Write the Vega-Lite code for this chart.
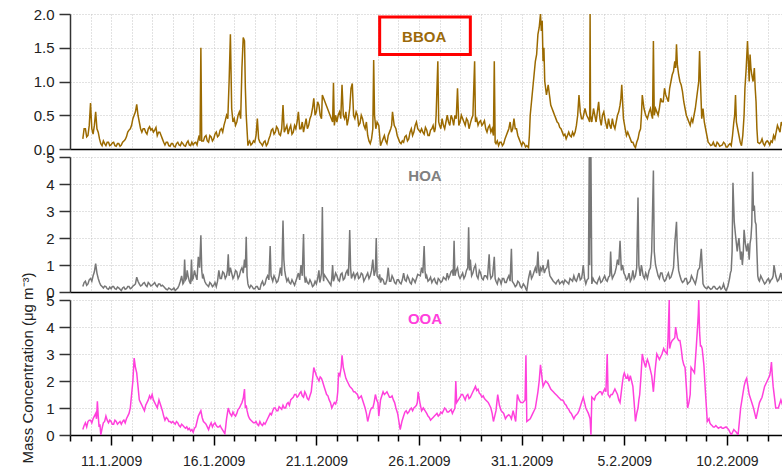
{
"$schema": "https://vega.github.io/schema/vega-lite/v6.json",
"autosize": {"type": "pad"},
"padding": {"left": 19, "top": 7, "right": 0, "bottom": 0},
"background": "white",
"spacing": 8,
"bounds": "flush",
"config": {
  "view": {"stroke": null},
  "font": "Liberation Sans",
  "axis": {"gridColor": "#c4c4c4", "gridDash": [1, 2], "gridWidth": 1, "labelFont": "Liberation Sans", "titleFont": "Liberation Sans", "labelColor": "#222", "titleColor": "#222", "labelOverlap": false}
},
"datasets": {
"bboa": [
{"t":"2009-01-09T15:00","v":0.15},{"t":"2009-01-09T18:00","v":0.3},{"t":"2009-01-09T21:00","v":0.2},
{"t":"2009-01-10T00:00","v":0.68},{"t":"2009-01-10T03:00","v":0.22},{"t":"2009-01-10T06:00","v":0.55},{"t":"2009-01-10T09:00","v":0.25},{"t":"2009-01-10T12:00","v":0.08},{"t":"2009-01-10T15:00","v":0.12},{"t":"2009-01-10T18:00","v":0.05},{"t":"2009-01-10T21:00","v":0.1},
{"t":"2009-01-11T00:00","v":0.06},{"t":"2009-01-11T03:00","v":0.1},{"t":"2009-01-11T06:00","v":0.04},{"t":"2009-01-11T09:00","v":0.08},{"t":"2009-01-11T12:00","v":0.06},{"t":"2009-01-11T15:00","v":0.12},{"t":"2009-01-11T18:00","v":0.18},{"t":"2009-01-11T21:00","v":0.28},
{"t":"2009-01-12T00:00","v":0.35},{"t":"2009-01-12T03:00","v":0.5},{"t":"2009-01-12T06:00","v":0.66},{"t":"2009-01-12T09:00","v":0.4},{"t":"2009-01-12T12:00","v":0.25},{"t":"2009-01-12T15:00","v":0.3},{"t":"2009-01-12T18:00","v":0.22},{"t":"2009-01-12T21:00","v":0.33},
{"t":"2009-01-13T00:00","v":0.3},{"t":"2009-01-13T03:00","v":0.28},{"t":"2009-01-13T06:00","v":0.2},{"t":"2009-01-13T09:00","v":0.25},{"t":"2009-01-13T12:00","v":0.15},{"t":"2009-01-13T15:00","v":0.06},{"t":"2009-01-13T18:00","v":0.1},{"t":"2009-01-13T21:00","v":0.04},
{"t":"2009-01-14T00:00","v":0.08},{"t":"2009-01-14T03:00","v":0.03},{"t":"2009-01-14T06:00","v":0.1},{"t":"2009-01-14T09:00","v":0.05},{"t":"2009-01-14T12:00","v":0.08},{"t":"2009-01-14T15:00","v":0.04},{"t":"2009-01-14T18:00","v":0.12},{"t":"2009-01-14T21:00","v":0.05},
{"t":"2009-01-15T00:00","v":0.06},{"t":"2009-01-15T03:00","v":0.1},{"t":"2009-01-15T06:00","v":0.15},{"t":"2009-01-15T08:00","v":0.12},{"t":"2009-01-15T09:00","v":1.5},{"t":"2009-01-15T10:00","v":0.12},{"t":"2009-01-15T12:00","v":0.12},{"t":"2009-01-15T15:00","v":0.2},{"t":"2009-01-15T18:00","v":0.1},{"t":"2009-01-15T21:00","v":0.18},
{"t":"2009-01-16T00:00","v":0.15},{"t":"2009-01-16T03:00","v":0.25},{"t":"2009-01-16T06:00","v":0.2},{"t":"2009-01-16T09:00","v":0.3},{"t":"2009-01-16T12:00","v":0.35},{"t":"2009-01-16T15:00","v":0.5},{"t":"2009-01-16T18:00","v":1.0},{"t":"2009-01-16T19:30","v":1.7},{"t":"2009-01-16T21:00","v":0.6},
{"t":"2009-01-17T00:00","v":0.45},{"t":"2009-01-17T03:00","v":0.4},{"t":"2009-01-17T06:00","v":0.55},{"t":"2009-01-17T09:00","v":1.2},{"t":"2009-01-17T10:30","v":1.65},{"t":"2009-01-17T12:00","v":1.6},{"t":"2009-01-17T14:00","v":0.5},{"t":"2009-01-17T16:00","v":0.05},{"t":"2009-01-17T18:00","v":0.12},{"t":"2009-01-17T21:00","v":0.08},
{"t":"2009-01-18T00:00","v":0.1},{"t":"2009-01-18T03:00","v":0.45},{"t":"2009-01-18T06:00","v":0.1},{"t":"2009-01-18T09:00","v":0.05},{"t":"2009-01-18T12:00","v":0.12},{"t":"2009-01-18T15:00","v":0.08},{"t":"2009-01-18T18:00","v":0.2},{"t":"2009-01-18T21:00","v":0.3},
{"t":"2009-01-19T00:00","v":0.25},{"t":"2009-01-19T03:00","v":0.3},{"t":"2009-01-19T06:00","v":0.2},{"t":"2009-01-19T09:00","v":0.65},{"t":"2009-01-19T12:00","v":0.3},{"t":"2009-01-19T15:00","v":0.22},{"t":"2009-01-19T18:00","v":0.35},{"t":"2009-01-19T21:00","v":0.25},
{"t":"2009-01-20T00:00","v":0.3},{"t":"2009-01-20T03:00","v":0.55},{"t":"2009-01-20T06:00","v":0.3},{"t":"2009-01-20T09:00","v":0.25},{"t":"2009-01-20T12:00","v":0.45},{"t":"2009-01-20T15:00","v":0.35},{"t":"2009-01-20T18:00","v":0.5},{"t":"2009-01-20T21:00","v":0.75},
{"t":"2009-01-21T00:00","v":0.55},{"t":"2009-01-21T03:00","v":0.65},{"t":"2009-01-21T06:00","v":0.45},{"t":"2009-01-21T07:00","v":0.8},{"t":"2009-01-21T19:00","v":0.4},{"t":"2009-01-21T20:00","v":0.98},{"t":"2009-01-21T21:00","v":0.35},
{"t":"2009-01-22T00:00","v":0.4},{"t":"2009-01-22T03:00","v":0.55},{"t":"2009-01-22T06:00","v":0.95},{"t":"2009-01-22T09:00","v":0.45},{"t":"2009-01-22T12:00","v":0.35},{"t":"2009-01-22T15:00","v":0.6},{"t":"2009-01-22T16:30","v":0.9},{"t":"2009-01-22T18:00","v":0.97},{"t":"2009-01-22T21:00","v":0.45},
{"t":"2009-01-23T00:00","v":0.5},{"t":"2009-01-23T03:00","v":0.38},{"t":"2009-01-23T06:00","v":0.45},{"t":"2009-01-23T09:00","v":0.3},{"t":"2009-01-23T12:00","v":0.2},{"t":"2009-01-23T15:00","v":0.08},{"t":"2009-01-23T18:00","v":0.3},{"t":"2009-01-23T19:00","v":1.32},{"t":"2009-01-23T20:00","v":0.5},{"t":"2009-01-23T23:00","v":0.4},
{"t":"2009-01-24T01:00","v":0.35},{"t":"2009-01-24T03:00","v":0.05},{"t":"2009-01-24T06:00","v":0.15},{"t":"2009-01-24T09:00","v":0.12},{"t":"2009-01-24T12:00","v":0.2},{"t":"2009-01-24T15:00","v":0.3},{"t":"2009-01-24T17:00","v":0.55},{"t":"2009-01-24T21:00","v":0.3},
{"t":"2009-01-25T00:00","v":0.15},{"t":"2009-01-25T03:00","v":0.08},{"t":"2009-01-25T06:00","v":0.1},{"t":"2009-01-25T09:00","v":0.2},{"t":"2009-01-25T12:00","v":0.15},{"t":"2009-01-25T15:00","v":0.3},{"t":"2009-01-25T18:00","v":0.25},{"t":"2009-01-25T21:00","v":0.4},
{"t":"2009-01-26T03:00","v":0.3},{"t":"2009-01-26T06:00","v":0.22},{"t":"2009-01-26T09:00","v":0.28},{"t":"2009-01-26T12:00","v":0.2},{"t":"2009-01-26T15:00","v":0.3},{"t":"2009-01-26T18:00","v":0.25},{"t":"2009-01-26T20:00","v":0.5},{"t":"2009-01-26T22:00","v":1.3},
{"t":"2009-01-27T00:00","v":0.35},{"t":"2009-01-27T03:00","v":0.45},{"t":"2009-01-27T06:00","v":0.3},{"t":"2009-01-27T09:00","v":0.5},{"t":"2009-01-27T12:00","v":0.35},{"t":"2009-01-27T15:00","v":0.45},{"t":"2009-01-27T18:00","v":0.5},{"t":"2009-01-27T21:00","v":0.9},
{"t":"2009-01-28T00:00","v":0.4},{"t":"2009-01-28T03:00","v":0.45},{"t":"2009-01-28T06:00","v":0.35},{"t":"2009-01-28T09:00","v":0.42},{"t":"2009-01-28T12:00","v":0.38},{"t":"2009-01-28T15:00","v":0.5},{"t":"2009-01-28T17:00","v":1.3},{"t":"2009-01-28T18:00","v":0.4},{"t":"2009-01-28T21:00","v":0.35},
{"t":"2009-01-29T00:00","v":0.42},{"t":"2009-01-29T03:00","v":0.38},{"t":"2009-01-29T06:00","v":0.3},{"t":"2009-01-29T09:00","v":0.32},{"t":"2009-01-29T12:00","v":0.25},{"t":"2009-01-29T15:00","v":0.2},{"t":"2009-01-29T16:00","v":1.3},{"t":"2009-01-29T17:00","v":0.1},{"t":"2009-01-29T18:00","v":0.08},{"t":"2009-01-29T21:00","v":0.05},
{"t":"2009-01-30T00:00","v":0.1},{"t":"2009-01-30T03:00","v":0.08},{"t":"2009-01-30T06:00","v":0.2},{"t":"2009-01-30T09:00","v":0.3},{"t":"2009-01-30T12:00","v":0.25},{"t":"2009-01-30T15:00","v":0.45},{"t":"2009-01-30T18:00","v":0.3},{"t":"2009-01-30T21:00","v":0.15},
{"t":"2009-01-31T00:00","v":0.05},{"t":"2009-01-31T03:00","v":0.08},{"t":"2009-01-31T06:00","v":0.05},{"t":"2009-01-31T08:00","v":0.02},{"t":"2009-01-31T10:00","v":0.5},{"t":"2009-01-31T13:00","v":0.9},{"t":"2009-01-31T16:00","v":1.3},{"t":"2009-01-31T19:00","v":1.7},{"t":"2009-01-31T22:00","v":2.0},
{"t":"2009-02-01T00:00","v":1.9},{"t":"2009-02-01T01:00","v":1.3},{"t":"2009-02-01T03:00","v":1.0},{"t":"2009-02-01T07:00","v":0.95},{"t":"2009-02-01T10:00","v":0.65},{"t":"2009-02-01T13:00","v":0.55},{"t":"2009-02-01T16:00","v":0.45},{"t":"2009-02-01T19:00","v":0.38},{"t":"2009-02-01T22:00","v":0.3},
{"t":"2009-02-02T01:00","v":0.2},{"t":"2009-02-02T04:00","v":0.15},{"t":"2009-02-02T07:00","v":0.25},{"t":"2009-02-02T10:00","v":0.18},{"t":"2009-02-02T13:00","v":0.2},{"t":"2009-02-02T16:00","v":0.35},{"t":"2009-02-02T19:00","v":0.8},{"t":"2009-02-02T22:00","v":0.45},
{"t":"2009-02-03T04:00","v":0.5},{"t":"2009-02-03T07:30","v":0.4},{"t":"2009-02-03T08:00","v":2.0},{"t":"2009-02-03T08:30","v":0.5},{"t":"2009-02-03T12:00","v":0.6},{"t":"2009-02-03T15:00","v":0.4},{"t":"2009-02-03T18:00","v":0.7},{"t":"2009-02-03T21:00","v":0.35},
{"t":"2009-02-04T00:00","v":0.55},{"t":"2009-02-04T04:00","v":0.3},{"t":"2009-02-04T07:00","v":0.35},{"t":"2009-02-04T10:00","v":0.45},{"t":"2009-02-04T13:00","v":0.3},{"t":"2009-02-04T16:00","v":0.5},{"t":"2009-02-04T19:00","v":0.65},{"t":"2009-02-04T21:00","v":0.95},
{"t":"2009-02-05T01:00","v":0.3},{"t":"2009-02-05T04:00","v":0.25},{"t":"2009-02-05T07:00","v":0.15},{"t":"2009-02-05T10:00","v":0.1},{"t":"2009-02-05T13:00","v":0.02},{"t":"2009-02-05T16:00","v":0.15},{"t":"2009-02-05T19:00","v":0.3},{"t":"2009-02-05T21:00","v":0.8},
{"t":"2009-02-06T01:00","v":0.5},{"t":"2009-02-06T05:00","v":0.55},{"t":"2009-02-06T08:00","v":0.5},{"t":"2009-02-06T10:00","v":1.6},{"t":"2009-02-06T11:00","v":0.5},{"t":"2009-02-06T14:00","v":0.55},{"t":"2009-02-06T17:00","v":0.6},{"t":"2009-02-06T20:00","v":0.7},{"t":"2009-02-06T23:00","v":0.9},
{"t":"2009-02-07T02:00","v":0.75},{"t":"2009-02-07T05:00","v":0.9},{"t":"2009-02-07T08:00","v":1.1},{"t":"2009-02-07T11:00","v":1.3},{"t":"2009-02-07T13:00","v":1.55},{"t":"2009-02-07T14:00","v":1.25},{"t":"2009-02-07T17:00","v":1.0},{"t":"2009-02-07T20:00","v":0.85},{"t":"2009-02-07T23:00","v":0.6},
{"t":"2009-02-08T02:00","v":0.45},{"t":"2009-02-08T05:00","v":0.35},{"t":"2009-02-08T08:00","v":0.4},{"t":"2009-02-08T11:00","v":0.6},{"t":"2009-02-08T14:00","v":0.9},{"t":"2009-02-08T16:00","v":1.45},{"t":"2009-02-08T17:00","v":1.0},{"t":"2009-02-08T20:00","v":0.6},{"t":"2009-02-08T23:00","v":0.3},
{"t":"2009-02-09T02:00","v":0.1},{"t":"2009-02-09T05:00","v":0.05},{"t":"2009-02-09T08:00","v":0.1},{"t":"2009-02-09T11:00","v":0.04},{"t":"2009-02-09T14:00","v":0.08},{"t":"2009-02-09T17:00","v":0.05},{"t":"2009-02-09T20:00","v":0.1},{"t":"2009-02-09T23:00","v":0.03},
{"t":"2009-02-10T02:00","v":0.06},{"t":"2009-02-10T05:00","v":0.05},{"t":"2009-02-10T08:00","v":0.4},{"t":"2009-02-10T10:00","v":0.8},{"t":"2009-02-10T11:00","v":0.4},{"t":"2009-02-10T14:00","v":0.2},{"t":"2009-02-10T17:00","v":0.05},{"t":"2009-02-10T20:00","v":0.5},{"t":"2009-02-10T21:00","v":0.9},
{"t":"2009-02-11T00:00","v":1.6},{"t":"2009-02-11T02:00","v":1.0},{"t":"2009-02-11T04:00","v":1.2},{"t":"2009-02-11T05:00","v":1.1},{"t":"2009-02-11T08:00","v":1.2},{"t":"2009-02-11T10:00","v":0.7},{"t":"2009-02-11T12:00","v":0.1},{"t":"2009-02-11T14:00","v":0.08},{"t":"2009-02-11T17:00","v":0.15},{"t":"2009-02-11T20:00","v":0.05},{"t":"2009-02-11T23:00","v":0.12},
{"t":"2009-02-12T02:00","v":0.06},{"t":"2009-02-12T05:00","v":0.1},{"t":"2009-02-12T08:00","v":0.15},{"t":"2009-02-12T11:00","v":0.35},{"t":"2009-02-12T14:00","v":0.25},{"t":"2009-02-12T17:00","v":0.35},{"t":"2009-02-12T20:00","v":0.3},
{"t":"2009-01-09T16:30","v":0.3},{"t":"2009-01-09T19:30","v":0.18},{"t":"2009-01-09T22:30","v":0.35},
{"t":"2009-01-10T01:30","v":0.3},{"t":"2009-01-10T04:30","v":0.35},{"t":"2009-01-10T07:30","v":0.3},{"t":"2009-01-10T10:30","v":0.15},{"t":"2009-01-10T13:30","v":0.05},{"t":"2009-01-10T16:30","v":0.08},{"t":"2009-01-10T19:30","v":0.1},{"t":"2009-01-10T22:30","v":0.05},
{"t":"2009-01-11T01:30","v":0.09},{"t":"2009-01-11T04:30","v":0.05},{"t":"2009-01-11T07:30","v":0.08},{"t":"2009-01-11T10:30","v":0.04},{"t":"2009-01-11T13:30","v":0.1},{"t":"2009-01-11T16:30","v":0.14},{"t":"2009-01-11T19:30","v":0.25},{"t":"2009-01-11T22:30","v":0.3},
{"t":"2009-01-12T01:30","v":0.45},{"t":"2009-01-12T04:30","v":0.55},{"t":"2009-01-12T07:30","v":0.5},{"t":"2009-01-12T10:30","v":0.3},{"t":"2009-01-12T13:30","v":0.3},{"t":"2009-01-12T16:30","v":0.25},{"t":"2009-01-12T19:30","v":0.3},{"t":"2009-01-12T22:30","v":0.28},
{"t":"2009-01-13T01:30","v":0.25},{"t":"2009-01-13T04:30","v":0.32},{"t":"2009-01-13T07:30","v":0.25},{"t":"2009-01-13T10:30","v":0.2},{"t":"2009-01-13T13:30","v":0.1},{"t":"2009-01-13T16:30","v":0.1},{"t":"2009-01-13T19:30","v":0.05},{"t":"2009-01-13T22:30","v":0.08},
{"t":"2009-01-14T01:30","v":0.04},{"t":"2009-01-14T04:30","v":0.08},{"t":"2009-01-14T07:30","v":0.06},{"t":"2009-01-14T10:30","v":0.1},{"t":"2009-01-14T13:30","v":0.05},{"t":"2009-01-14T16:30","v":0.09},{"t":"2009-01-14T19:30","v":0.06},{"t":"2009-01-14T22:30","v":0.1},
{"t":"2009-01-15T01:30","v":0.09},{"t":"2009-01-15T04:30","v":0.06},{"t":"2009-01-15T07:00","v":0.2},{"t":"2009-01-15T13:30","v":0.18},{"t":"2009-01-15T16:30","v":0.12},{"t":"2009-01-15T19:30","v":0.2},{"t":"2009-01-15T22:30","v":0.12},
{"t":"2009-01-16T01:30","v":0.22},{"t":"2009-01-16T04:30","v":0.18},{"t":"2009-01-16T07:30","v":0.28},{"t":"2009-01-16T10:30","v":0.25},{"t":"2009-01-16T13:30","v":0.42},{"t":"2009-01-16T16:30","v":0.45},{"t":"2009-01-16T22:30","v":0.4},
{"t":"2009-01-17T01:30","v":0.35},{"t":"2009-01-17T04:30","v":0.5},{"t":"2009-01-17T07:30","v":0.45},{"t":"2009-01-17T13:00","v":0.9},{"t":"2009-01-17T17:00","v":0.1},{"t":"2009-01-17T19:30","v":0.06},{"t":"2009-01-17T22:30","v":0.12},
{"t":"2009-01-18T01:30","v":0.2},{"t":"2009-01-18T04:30","v":0.15},{"t":"2009-01-18T07:30","v":0.08},{"t":"2009-01-18T10:30","v":0.1},{"t":"2009-01-18T13:30","v":0.05},{"t":"2009-01-18T16:30","v":0.15},{"t":"2009-01-18T19:30","v":0.28},{"t":"2009-01-18T22:30","v":0.22},
{"t":"2009-01-19T01:30","v":0.33},{"t":"2009-01-19T04:30","v":0.22},{"t":"2009-01-19T07:30","v":0.3},{"t":"2009-01-19T10:30","v":0.25},{"t":"2009-01-19T13:30","v":0.35},{"t":"2009-01-19T16:30","v":0.3},{"t":"2009-01-19T19:30","v":0.22},{"t":"2009-01-19T22:30","v":0.35},
{"t":"2009-01-20T01:30","v":0.4},{"t":"2009-01-20T04:30","v":0.3},{"t":"2009-01-20T07:30","v":0.4},{"t":"2009-01-20T10:30","v":0.35},{"t":"2009-01-20T13:30","v":0.3},{"t":"2009-01-20T16:30","v":0.45},{"t":"2009-01-20T19:30","v":0.6},{"t":"2009-01-20T22:30","v":0.5},
{"t":"2009-01-21T01:30","v":0.7},{"t":"2009-01-21T04:30","v":0.5},{"t":"2009-01-21T22:30","v":0.5},
{"t":"2009-01-22T01:30","v":0.5},{"t":"2009-01-22T04:30","v":0.45},{"t":"2009-01-22T07:30","v":0.5},{"t":"2009-01-22T10:30","v":0.55},{"t":"2009-01-22T13:30","v":0.45},{"t":"2009-01-22T19:30","v":0.5},{"t":"2009-01-22T22:30","v":0.55},
{"t":"2009-01-23T01:30","v":0.35},{"t":"2009-01-23T04:30","v":0.5},{"t":"2009-01-23T07:30","v":0.35},{"t":"2009-01-23T10:30","v":0.4},{"t":"2009-01-23T13:30","v":0.12},{"t":"2009-01-23T16:30","v":0.15},{"t":"2009-01-23T21:30","v":0.3},
{"t":"2009-01-24T02:00","v":0.2},{"t":"2009-01-24T04:30","v":0.1},{"t":"2009-01-24T07:30","v":0.2},{"t":"2009-01-24T10:30","v":0.08},{"t":"2009-01-24T13:30","v":0.25},{"t":"2009-01-24T16:00","v":0.35},{"t":"2009-01-24T19:00","v":0.35},{"t":"2009-01-24T22:30","v":0.2},
{"t":"2009-01-25T01:30","v":0.1},{"t":"2009-01-25T04:30","v":0.12},{"t":"2009-01-25T07:30","v":0.18},{"t":"2009-01-25T10:30","v":0.12},{"t":"2009-01-25T13:30","v":0.25},{"t":"2009-01-25T16:30","v":0.2},{"t":"2009-01-25T19:30","v":0.35},{"t":"2009-01-25T22:30","v":0.3},
{"t":"2009-01-26T01:30","v":0.25},{"t":"2009-01-26T04:30","v":0.25},{"t":"2009-01-26T07:30","v":0.32},{"t":"2009-01-26T10:30","v":0.2},{"t":"2009-01-26T13:30","v":0.28},{"t":"2009-01-26T16:30","v":0.35},{"t":"2009-01-26T19:00","v":0.3},{"t":"2009-01-26T23:00","v":0.4},
{"t":"2009-01-27T01:30","v":0.3},{"t":"2009-01-27T04:30","v":0.35},{"t":"2009-01-27T07:30","v":0.4},{"t":"2009-01-27T10:30","v":0.4},{"t":"2009-01-27T13:30","v":0.5},{"t":"2009-01-27T16:30","v":0.35},{"t":"2009-01-27T19:30","v":0.45},{"t":"2009-01-27T22:30","v":0.35},
{"t":"2009-01-28T01:30","v":0.5},{"t":"2009-01-28T04:30","v":0.4},{"t":"2009-01-28T07:30","v":0.45},{"t":"2009-01-28T10:30","v":0.3},{"t":"2009-01-28T13:30","v":0.45},{"t":"2009-01-28T19:30","v":0.45},{"t":"2009-01-28T22:30","v":0.4},
{"t":"2009-01-29T01:30","v":0.35},{"t":"2009-01-29T04:30","v":0.42},{"t":"2009-01-29T07:30","v":0.25},{"t":"2009-01-29T10:30","v":0.35},{"t":"2009-01-29T13:30","v":0.3},{"t":"2009-01-29T19:30","v":0.12},{"t":"2009-01-29T22:30","v":0.1},
{"t":"2009-01-30T01:30","v":0.05},{"t":"2009-01-30T04:30","v":0.15},{"t":"2009-01-30T07:30","v":0.25},{"t":"2009-01-30T10:30","v":0.4},{"t":"2009-01-30T13:30","v":0.3},{"t":"2009-01-30T16:30","v":0.3},{"t":"2009-01-30T19:30","v":0.2},{"t":"2009-01-30T22:30","v":0.1},
{"t":"2009-01-31T01:30","v":0.1},{"t":"2009-01-31T04:30","v":0.03},{"t":"2009-01-31T09:00","v":0.2},{"t":"2009-01-31T11:30","v":0.7},{"t":"2009-01-31T14:30","v":1.1},{"t":"2009-01-31T17:30","v":1.4},{"t":"2009-01-31T20:30","v":1.8},{"t":"2009-01-31T23:00","v":1.75},
{"t":"2009-02-01T02:00","v":1.5},{"t":"2009-02-01T05:00","v":0.8},{"t":"2009-02-01T08:30","v":0.8},{"t":"2009-02-01T11:30","v":0.6},{"t":"2009-02-01T14:30","v":0.5},{"t":"2009-02-01T17:30","v":0.4},{"t":"2009-02-01T20:30","v":0.32},{"t":"2009-02-01T23:30","v":0.25},
{"t":"2009-02-02T02:30","v":0.22},{"t":"2009-02-02T05:30","v":0.2},{"t":"2009-02-02T08:30","v":0.2},{"t":"2009-02-02T11:30","v":0.25},{"t":"2009-02-02T14:30","v":0.25},{"t":"2009-02-02T17:30","v":0.5},{"t":"2009-02-02T20:30","v":0.55},{"t":"2009-02-02T23:30","v":0.45},
{"t":"2009-02-03T02:00","v":0.6},{"t":"2009-02-03T06:00","v":0.45},{"t":"2009-02-03T10:00","v":0.4},{"t":"2009-02-03T13:30","v":0.5},{"t":"2009-02-03T16:30","v":0.55},{"t":"2009-02-03T19:30","v":0.45},{"t":"2009-02-03T22:30","v":0.5},
{"t":"2009-02-04T02:00","v":0.4},{"t":"2009-02-04T05:30","v":0.45},{"t":"2009-02-04T08:30","v":0.3},{"t":"2009-02-04T11:30","v":0.35},{"t":"2009-02-04T14:30","v":0.4},{"t":"2009-02-04T17:30","v":0.55},{"t":"2009-02-04T20:00","v":0.75},{"t":"2009-02-04T23:00","v":0.45},
{"t":"2009-02-05T02:30","v":0.2},{"t":"2009-02-05T05:30","v":0.2},{"t":"2009-02-05T08:30","v":0.1},{"t":"2009-02-05T11:30","v":0.05},{"t":"2009-02-05T14:30","v":0.1},{"t":"2009-02-05T17:30","v":0.25},{"t":"2009-02-05T20:00","v":0.5},{"t":"2009-02-05T23:00","v":0.6},
{"t":"2009-02-06T03:00","v":0.45},{"t":"2009-02-06T06:30","v":0.6},{"t":"2009-02-06T09:00","v":0.45},{"t":"2009-02-06T12:30","v":0.6},{"t":"2009-02-06T15:30","v":0.5},{"t":"2009-02-06T18:30","v":0.75},{"t":"2009-02-06T21:30","v":0.7},
{"t":"2009-02-07T00:30","v":0.8},{"t":"2009-02-07T03:30","v":0.7},{"t":"2009-02-07T06:30","v":1.0},{"t":"2009-02-07T09:30","v":1.15},{"t":"2009-02-07T12:00","v":1.2},{"t":"2009-02-07T15:30","v":1.1},{"t":"2009-02-07T18:30","v":0.95},{"t":"2009-02-07T21:30","v":0.7},
{"t":"2009-02-08T00:30","v":0.5},{"t":"2009-02-08T03:30","v":0.4},{"t":"2009-02-08T06:30","v":0.45},{"t":"2009-02-08T09:30","v":0.5},{"t":"2009-02-08T12:30","v":0.75},{"t":"2009-02-08T15:00","v":1.0},{"t":"2009-02-08T18:30","v":0.45},{"t":"2009-02-08T21:30","v":0.4},
{"t":"2009-02-09T00:30","v":0.2},{"t":"2009-02-09T03:30","v":0.08},{"t":"2009-02-09T06:30","v":0.06},{"t":"2009-02-09T09:30","v":0.05},{"t":"2009-02-09T12:30","v":0.1},{"t":"2009-02-09T15:30","v":0.04},{"t":"2009-02-09T18:30","v":0.06},{"t":"2009-02-09T21:30","v":0.08},
{"t":"2009-02-10T00:30","v":0.03},{"t":"2009-02-10T03:30","v":0.08},{"t":"2009-02-10T06:30","v":0.2},{"t":"2009-02-10T09:00","v":0.5},{"t":"2009-02-10T12:30","v":0.3},{"t":"2009-02-10T15:30","v":0.1},{"t":"2009-02-10T18:30","v":0.2},{"t":"2009-02-10T22:30","v":1.2},
{"t":"2009-02-11T01:00","v":1.3},{"t":"2009-02-11T03:00","v":1.4},{"t":"2009-02-11T06:30","v":1.0},{"t":"2009-02-11T09:00","v":0.9},{"t":"2009-02-11T11:00","v":0.3},{"t":"2009-02-11T15:30","v":0.1},{"t":"2009-02-11T18:30","v":0.08},{"t":"2009-02-11T21:30","v":0.1},
{"t":"2009-02-12T00:30","v":0.1},{"t":"2009-02-12T03:30","v":0.12},{"t":"2009-02-12T06:30","v":0.2},{"t":"2009-02-12T09:30","v":0.25},{"t":"2009-02-12T12:30","v":0.3},{"t":"2009-02-12T15:30","v":0.4},{"t":"2009-02-12T18:30","v":0.3}
],
"hoa": [
{"t":"2009-01-09T15:00","v":0.2},{"t":"2009-01-09T18:00","v":0.4},{"t":"2009-01-09T21:00","v":0.3},
{"t":"2009-01-10T00:00","v":0.5},{"t":"2009-01-10T03:00","v":0.6},{"t":"2009-01-10T06:00","v":1.05},{"t":"2009-01-10T09:00","v":0.5},{"t":"2009-01-10T12:00","v":0.25},{"t":"2009-01-10T15:00","v":0.15},{"t":"2009-01-10T18:00","v":0.2},{"t":"2009-01-10T21:00","v":0.1},
{"t":"2009-01-11T00:00","v":0.12},{"t":"2009-01-11T03:00","v":0.2},{"t":"2009-01-11T06:00","v":0.1},{"t":"2009-01-11T09:00","v":0.15},{"t":"2009-01-11T12:00","v":0.05},{"t":"2009-01-11T15:00","v":0.18},{"t":"2009-01-11T18:00","v":0.12},{"t":"2009-01-11T21:00","v":0.2},
{"t":"2009-01-12T00:00","v":0.15},{"t":"2009-01-12T03:00","v":0.25},{"t":"2009-01-12T06:00","v":0.55},{"t":"2009-01-12T09:00","v":0.3},{"t":"2009-01-12T12:00","v":0.25},{"t":"2009-01-12T15:00","v":0.35},{"t":"2009-01-12T18:00","v":0.2},{"t":"2009-01-12T21:00","v":0.3},
{"t":"2009-01-13T00:00","v":0.25},{"t":"2009-01-13T03:00","v":0.35},{"t":"2009-01-13T06:00","v":0.2},{"t":"2009-01-13T09:00","v":0.3},{"t":"2009-01-13T12:00","v":0.25},{"t":"2009-01-13T15:00","v":0.15},{"t":"2009-01-13T18:00","v":0.08},{"t":"2009-01-13T21:00","v":0.12},
{"t":"2009-01-14T00:00","v":0.1},{"t":"2009-01-14T03:00","v":0.05},{"t":"2009-01-14T06:00","v":0.15},{"t":"2009-01-14T09:00","v":0.4},{"t":"2009-01-14T12:00","v":0.3},{"t":"2009-01-14T14:00","v":1.2},{"t":"2009-01-14T16:00","v":0.5},{"t":"2009-01-14T18:00","v":0.6},{"t":"2009-01-14T21:00","v":0.3},{"t":"2009-01-14T22:00","v":1.2},
{"t":"2009-01-15T00:00","v":0.5},{"t":"2009-01-15T03:00","v":0.6},{"t":"2009-01-15T06:00","v":1.3},{"t":"2009-01-15T09:00","v":2.1},{"t":"2009-01-15T10:00","v":0.8},{"t":"2009-01-15T12:00","v":0.6},{"t":"2009-01-15T15:00","v":0.3},{"t":"2009-01-15T18:00","v":0.2},{"t":"2009-01-15T21:00","v":0.3},
{"t":"2009-01-16T00:00","v":0.25},{"t":"2009-01-16T03:00","v":0.2},{"t":"2009-01-16T06:00","v":0.8},{"t":"2009-01-16T09:00","v":0.5},{"t":"2009-01-16T12:00","v":0.7},{"t":"2009-01-16T15:00","v":0.6},{"t":"2009-01-16T17:00","v":1.4},{"t":"2009-01-16T18:00","v":0.6},{"t":"2009-01-16T21:00","v":0.7},
{"t":"2009-01-17T00:00","v":0.6},{"t":"2009-01-17T03:00","v":0.75},{"t":"2009-01-17T06:00","v":0.6},{"t":"2009-01-17T09:00","v":0.9},{"t":"2009-01-17T12:00","v":1.2},{"t":"2009-01-17T14:00","v":2.05},{"t":"2009-01-17T15:00","v":0.6},{"t":"2009-01-17T16:00","v":0.3},{"t":"2009-01-17T18:00","v":0.15},{"t":"2009-01-17T21:00","v":0.2},
{"t":"2009-01-18T00:00","v":0.12},{"t":"2009-01-18T03:00","v":0.2},{"t":"2009-01-18T06:00","v":0.1},{"t":"2009-01-18T09:00","v":0.4},{"t":"2009-01-18T12:00","v":0.3},{"t":"2009-01-18T15:00","v":0.6},{"t":"2009-01-18T18:00","v":1.7},{"t":"2009-01-18T20:00","v":0.5},{"t":"2009-01-18T21:00","v":0.4},
{"t":"2009-01-19T00:00","v":0.5},{"t":"2009-01-19T03:00","v":0.4},{"t":"2009-01-19T06:00","v":0.9},{"t":"2009-01-19T09:00","v":2.65},{"t":"2009-01-19T10:00","v":1.2},{"t":"2009-01-19T12:00","v":0.6},{"t":"2009-01-19T15:00","v":0.5},{"t":"2009-01-19T18:00","v":0.3},{"t":"2009-01-19T21:00","v":0.35},
{"t":"2009-01-20T00:00","v":0.4},{"t":"2009-01-20T03:00","v":0.7},{"t":"2009-01-20T06:00","v":1.0},{"t":"2009-01-20T09:00","v":2.15},{"t":"2009-01-20T10:00","v":0.6},{"t":"2009-01-20T12:00","v":0.5},{"t":"2009-01-20T15:00","v":0.3},{"t":"2009-01-20T18:00","v":0.35},{"t":"2009-01-20T21:00","v":0.25},
{"t":"2009-01-21T00:00","v":0.3},{"t":"2009-01-21T03:00","v":0.8},{"t":"2009-01-21T05:00","v":0.5},{"t":"2009-01-21T07:00","v":3.15},{"t":"2009-01-21T08:00","v":0.6},{"t":"2009-01-21T09:00","v":0.65},{"t":"2009-01-21T17:00","v":0.25},{"t":"2009-01-21T19:00","v":1.0},{"t":"2009-01-21T21:00","v":0.5},
{"t":"2009-01-22T00:00","v":0.6},{"t":"2009-01-22T03:00","v":0.4},{"t":"2009-01-22T06:00","v":0.7},{"t":"2009-01-22T09:00","v":0.5},{"t":"2009-01-22T12:00","v":0.8},{"t":"2009-01-22T15:00","v":2.3},{"t":"2009-01-22T16:00","v":0.9},{"t":"2009-01-22T18:00","v":0.6},{"t":"2009-01-22T21:00","v":0.5},
{"t":"2009-01-23T00:00","v":0.7},{"t":"2009-01-23T03:00","v":0.55},{"t":"2009-01-23T06:00","v":0.65},{"t":"2009-01-23T09:00","v":0.5},{"t":"2009-01-23T12:00","v":0.7},{"t":"2009-01-23T15:00","v":0.6},{"t":"2009-01-23T18:00","v":1.2},{"t":"2009-01-23T21:00","v":0.8},{"t":"2009-01-23T22:00","v":2.0},{"t":"2009-01-23T23:00","v":0.6},
{"t":"2009-01-24T01:00","v":0.5},{"t":"2009-01-24T03:00","v":0.35},{"t":"2009-01-24T06:00","v":0.45},{"t":"2009-01-24T09:00","v":0.3},{"t":"2009-01-24T12:00","v":0.9},{"t":"2009-01-24T15:00","v":0.4},{"t":"2009-01-24T18:00","v":0.5},{"t":"2009-01-24T21:00","v":0.3},
{"t":"2009-01-25T00:00","v":0.45},{"t":"2009-01-25T03:00","v":0.3},{"t":"2009-01-25T06:00","v":0.7},{"t":"2009-01-25T09:00","v":0.4},{"t":"2009-01-25T12:00","v":0.5},{"t":"2009-01-25T15:00","v":0.3},{"t":"2009-01-25T18:00","v":0.45},{"t":"2009-01-25T21:00","v":0.5},
{"t":"2009-01-26T03:00","v":0.9},{"t":"2009-01-26T06:00","v":1.7},{"t":"2009-01-26T07:00","v":0.8},{"t":"2009-01-26T09:00","v":0.6},{"t":"2009-01-26T12:00","v":0.45},{"t":"2009-01-26T15:00","v":0.35},{"t":"2009-01-26T18:00","v":0.5},{"t":"2009-01-26T21:00","v":0.3},
{"t":"2009-01-27T00:00","v":0.45},{"t":"2009-01-27T03:00","v":0.4},{"t":"2009-01-27T06:00","v":0.5},{"t":"2009-01-27T09:00","v":0.7},{"t":"2009-01-27T12:00","v":0.6},{"t":"2009-01-27T15:00","v":0.8},{"t":"2009-01-27T17:00","v":1.9},{"t":"2009-01-27T18:00","v":0.6},{"t":"2009-01-27T21:00","v":0.9},
{"t":"2009-01-28T00:00","v":0.5},{"t":"2009-01-28T03:00","v":0.7},{"t":"2009-01-28T06:00","v":0.6},{"t":"2009-01-28T09:00","v":0.9},{"t":"2009-01-28T10:00","v":2.4},{"t":"2009-01-28T12:00","v":1.2},{"t":"2009-01-28T15:00","v":0.7},{"t":"2009-01-28T18:00","v":1.0},{"t":"2009-01-28T21:00","v":0.5},
{"t":"2009-01-29T00:00","v":0.7},{"t":"2009-01-29T03:00","v":0.45},{"t":"2009-01-29T06:00","v":0.6},{"t":"2009-01-29T10:00","v":1.4},{"t":"2009-01-29T12:00","v":0.5},{"t":"2009-01-29T16:00","v":1.3},{"t":"2009-01-29T18:00","v":0.4},{"t":"2009-01-29T21:00","v":0.5},
{"t":"2009-01-30T00:00","v":0.3},{"t":"2009-01-30T03:00","v":0.5},{"t":"2009-01-30T06:00","v":0.35},{"t":"2009-01-30T09:00","v":0.6},{"t":"2009-01-30T12:00","v":1.6},{"t":"2009-01-30T13:00","v":0.4},{"t":"2009-01-30T15:00","v":0.3},{"t":"2009-01-30T18:00","v":0.25},{"t":"2009-01-30T21:00","v":0.35},
{"t":"2009-01-31T00:00","v":0.15},{"t":"2009-01-31T04:00","v":0.2},{"t":"2009-01-31T06:00","v":0.05},{"t":"2009-01-31T10:00","v":0.8},{"t":"2009-01-31T13:00","v":0.6},{"t":"2009-01-31T16:00","v":0.9},{"t":"2009-01-31T19:00","v":1.5},{"t":"2009-01-31T20:00","v":0.8},{"t":"2009-01-31T22:00","v":0.9},
{"t":"2009-02-01T01:00","v":1.0},{"t":"2009-02-01T04:00","v":0.85},{"t":"2009-02-01T07:00","v":1.2},{"t":"2009-02-01T09:00","v":0.6},{"t":"2009-02-01T13:00","v":0.4},{"t":"2009-02-01T16:00","v":0.3},{"t":"2009-02-01T19:00","v":0.45},{"t":"2009-02-01T22:00","v":0.35},
{"t":"2009-02-02T01:00","v":0.3},{"t":"2009-02-02T04:00","v":0.4},{"t":"2009-02-02T07:00","v":0.3},{"t":"2009-02-02T10:00","v":0.45},{"t":"2009-02-02T13:00","v":0.6},{"t":"2009-02-02T16:00","v":0.4},{"t":"2009-02-02T19:00","v":0.7},{"t":"2009-02-02T22:00","v":0.5},
{"t":"2009-02-03T00:00","v":1.0},{"t":"2009-02-03T03:00","v":0.3},{"t":"2009-02-03T06:00","v":0.5},{"t":"2009-02-03T07:00","v":5.0},{"t":"2009-02-03T07:30","v":1.0},{"t":"2009-02-03T08:00","v":5.0},{"t":"2009-02-03T08:30","v":2.0},{"t":"2009-02-03T09:00","v":5.0},{"t":"2009-02-03T10:00","v":0.3},{"t":"2009-02-03T13:00","v":0.4},{"t":"2009-02-03T16:00","v":0.3},{"t":"2009-02-03T19:00","v":0.55},{"t":"2009-02-03T22:00","v":0.4},
{"t":"2009-02-04T01:00","v":0.6},{"t":"2009-02-04T04:00","v":0.4},{"t":"2009-02-04T07:00","v":0.6},{"t":"2009-02-04T08:00","v":1.5},{"t":"2009-02-04T10:00","v":0.5},{"t":"2009-02-04T13:00","v":0.7},{"t":"2009-02-04T16:00","v":1.2},{"t":"2009-02-04T19:00","v":1.9},{"t":"2009-02-04T22:00","v":1.0},
{"t":"2009-02-05T01:00","v":0.6},{"t":"2009-02-05T04:00","v":0.5},{"t":"2009-02-05T07:00","v":0.4},{"t":"2009-02-05T10:00","v":0.8},{"t":"2009-02-05T13:00","v":0.6},{"t":"2009-02-05T16:00","v":3.5},{"t":"2009-02-05T17:00","v":1.0},{"t":"2009-02-05T20:00","v":1.0},{"t":"2009-02-05T22:00","v":0.6},
{"t":"2009-02-06T01:00","v":0.7},{"t":"2009-02-06T05:00","v":0.8},{"t":"2009-02-06T08:00","v":1.5},{"t":"2009-02-06T10:00","v":4.5},{"t":"2009-02-06T11:00","v":1.5},{"t":"2009-02-06T14:00","v":0.8},{"t":"2009-02-06T17:00","v":0.5},{"t":"2009-02-06T20:00","v":0.7},{"t":"2009-02-06T23:00","v":0.4},
{"t":"2009-02-07T02:00","v":0.6},{"t":"2009-02-07T05:00","v":0.5},{"t":"2009-02-07T08:00","v":0.7},{"t":"2009-02-07T11:00","v":1.8},{"t":"2009-02-07T13:00","v":2.6},{"t":"2009-02-07T14:00","v":1.5},{"t":"2009-02-07T17:00","v":0.6},{"t":"2009-02-07T20:00","v":0.35},{"t":"2009-02-07T23:00","v":0.5},
{"t":"2009-02-08T02:00","v":0.3},{"t":"2009-02-08T05:00","v":0.4},{"t":"2009-02-08T08:00","v":0.5},{"t":"2009-02-08T11:00","v":0.3},{"t":"2009-02-08T14:00","v":0.8},{"t":"2009-02-08T18:00","v":1.6},{"t":"2009-02-08T20:00","v":0.3},{"t":"2009-02-08T23:00","v":0.15},
{"t":"2009-02-09T02:00","v":0.2},{"t":"2009-02-09T05:00","v":0.1},{"t":"2009-02-09T08:00","v":0.2},{"t":"2009-02-09T11:00","v":0.12},{"t":"2009-02-09T14:00","v":0.15},{"t":"2009-02-09T17:00","v":0.1},{"t":"2009-02-09T20:00","v":0.3},{"t":"2009-02-09T23:00","v":0.05},
{"t":"2009-02-10T03:00","v":0.5},{"t":"2009-02-10T05:00","v":0.8},{"t":"2009-02-10T07:00","v":4.05},{"t":"2009-02-10T10:00","v":2.1},{"t":"2009-02-10T12:00","v":1.5},{"t":"2009-02-10T14:00","v":2.0},{"t":"2009-02-10T16:00","v":1.2},{"t":"2009-02-10T18:00","v":1.0},{"t":"2009-02-10T20:00","v":2.3},{"t":"2009-02-10T23:00","v":1.5},
{"t":"2009-02-11T02:00","v":1.2},{"t":"2009-02-11T04:00","v":2.0},{"t":"2009-02-11T06:00","v":4.45},{"t":"2009-02-11T08:00","v":3.2},{"t":"2009-02-11T10:00","v":2.5},{"t":"2009-02-11T12:00","v":0.6},{"t":"2009-02-11T14:00","v":0.4},{"t":"2009-02-11T17:00","v":0.5},{"t":"2009-02-11T20:00","v":0.3},{"t":"2009-02-11T23:00","v":0.45},
{"t":"2009-02-12T02:00","v":0.35},{"t":"2009-02-12T05:00","v":0.5},{"t":"2009-02-12T07:00","v":1.0},{"t":"2009-02-12T11:00","v":0.4},{"t":"2009-02-12T14:00","v":0.6},{"t":"2009-02-12T16:00","v":0.5},{"t":"2009-02-12T18:00","v":0.7},
{"t":"2009-01-09T16:30","v":0.35},{"t":"2009-01-09T19:30","v":0.25},{"t":"2009-01-09T22:30","v":0.45},
{"t":"2009-01-10T01:30","v":0.4},{"t":"2009-01-10T04:30","v":0.75},{"t":"2009-01-10T07:30","v":0.7},{"t":"2009-01-10T10:30","v":0.35},{"t":"2009-01-10T13:30","v":0.2},{"t":"2009-01-10T16:30","v":0.22},{"t":"2009-01-10T19:30","v":0.12},{"t":"2009-01-10T22:30","v":0.18},
{"t":"2009-01-11T01:30","v":0.2},{"t":"2009-01-11T04:30","v":0.12},{"t":"2009-01-11T07:30","v":0.18},{"t":"2009-01-11T10:30","v":0.1},{"t":"2009-01-11T13:30","v":0.15},{"t":"2009-01-11T16:30","v":0.1},{"t":"2009-01-11T19:30","v":0.2},{"t":"2009-01-11T22:30","v":0.12},
{"t":"2009-01-12T01:30","v":0.22},{"t":"2009-01-12T04:30","v":0.3},{"t":"2009-01-12T07:30","v":0.4},{"t":"2009-01-12T10:30","v":0.22},{"t":"2009-01-12T13:30","v":0.32},{"t":"2009-01-12T16:30","v":0.25},{"t":"2009-01-12T19:30","v":0.35},{"t":"2009-01-12T22:30","v":0.22},
{"t":"2009-01-13T01:30","v":0.3},{"t":"2009-01-13T04:30","v":0.25},{"t":"2009-01-13T07:30","v":0.3},{"t":"2009-01-13T10:30","v":0.22},{"t":"2009-01-13T13:30","v":0.2},{"t":"2009-01-13T16:30","v":0.1},{"t":"2009-01-13T19:30","v":0.15},{"t":"2009-01-13T22:30","v":0.08},
{"t":"2009-01-14T01:30","v":0.15},{"t":"2009-01-14T04:30","v":0.1},{"t":"2009-01-14T07:30","v":0.25},{"t":"2009-01-14T10:30","v":0.6},{"t":"2009-01-14T13:00","v":0.35},{"t":"2009-01-14T15:00","v":0.45},{"t":"2009-01-14T17:00","v":0.8},{"t":"2009-01-14T19:30","v":0.4},{"t":"2009-01-14T23:00","v":0.45},
{"t":"2009-01-15T01:30","v":0.8},{"t":"2009-01-15T04:30","v":0.45},{"t":"2009-01-15T07:30","v":0.9},{"t":"2009-01-15T11:00","v":0.5},{"t":"2009-01-15T13:30","v":0.4},{"t":"2009-01-15T16:30","v":0.25},{"t":"2009-01-15T19:30","v":0.35},{"t":"2009-01-15T22:30","v":0.2},
{"t":"2009-01-16T01:30","v":0.35},{"t":"2009-01-16T04:30","v":0.4},{"t":"2009-01-16T07:30","v":0.5},{"t":"2009-01-16T10:30","v":0.75},{"t":"2009-01-16T13:30","v":0.5},{"t":"2009-01-16T16:00","v":0.8},{"t":"2009-01-16T19:30","v":0.9},{"t":"2009-01-16T22:30","v":0.5},
{"t":"2009-01-17T01:30","v":0.8},{"t":"2009-01-17T04:30","v":0.5},{"t":"2009-01-17T07:30","v":0.8},{"t":"2009-01-17T10:30","v":0.7},{"t":"2009-01-17T13:00","v":0.9},{"t":"2009-01-17T17:00","v":0.2},{"t":"2009-01-17T19:30","v":0.25},{"t":"2009-01-17T22:30","v":0.12},
{"t":"2009-01-18T01:30","v":0.2},{"t":"2009-01-18T04:30","v":0.1},{"t":"2009-01-18T07:30","v":0.3},{"t":"2009-01-18T10:30","v":0.25},{"t":"2009-01-18T13:30","v":0.5},{"t":"2009-01-18T16:30","v":0.45},{"t":"2009-01-18T19:00","v":0.6},{"t":"2009-01-18T22:30","v":0.6},
{"t":"2009-01-19T01:30","v":0.35},{"t":"2009-01-19T04:30","v":0.6},{"t":"2009-01-19T07:30","v":0.6},{"t":"2009-01-19T11:00","v":0.8},{"t":"2009-01-19T13:30","v":0.4},{"t":"2009-01-19T16:30","v":0.35},{"t":"2009-01-19T19:30","v":0.45},{"t":"2009-01-19T22:30","v":0.25},
{"t":"2009-01-20T01:30","v":0.55},{"t":"2009-01-20T04:30","v":0.45},{"t":"2009-01-20T07:30","v":0.6},{"t":"2009-01-20T11:00","v":0.35},{"t":"2009-01-20T13:30","v":0.35},{"t":"2009-01-20T16:30","v":0.45},{"t":"2009-01-20T19:30","v":0.2},{"t":"2009-01-20T22:30","v":0.4},
{"t":"2009-01-21T01:30","v":0.5},{"t":"2009-01-21T04:00","v":0.35},{"t":"2009-01-21T06:00","v":0.7},{"t":"2009-01-21T08:30","v":0.4},{"t":"2009-01-21T18:00","v":0.5},{"t":"2009-01-21T20:00","v":0.4},{"t":"2009-01-21T22:30","v":0.7},
{"t":"2009-01-22T01:30","v":0.45},{"t":"2009-01-22T04:30","v":0.65},{"t":"2009-01-22T07:30","v":0.45},{"t":"2009-01-22T10:30","v":0.7},{"t":"2009-01-22T13:30","v":0.6},{"t":"2009-01-22T17:00","v":0.5},{"t":"2009-01-22T19:30","v":0.7},{"t":"2009-01-22T22:30","v":0.65},
{"t":"2009-01-23T01:30","v":0.5},{"t":"2009-01-23T04:30","v":0.7},{"t":"2009-01-23T07:30","v":0.4},{"t":"2009-01-23T10:30","v":0.6},{"t":"2009-01-23T13:30","v":0.5},{"t":"2009-01-23T16:30","v":0.8},{"t":"2009-01-23T19:30","v":0.6},
{"t":"2009-01-24T02:00","v":0.65},{"t":"2009-01-24T04:30","v":0.5},{"t":"2009-01-24T07:30","v":0.3},{"t":"2009-01-24T10:30","v":0.45},{"t":"2009-01-24T13:30","v":0.4},{"t":"2009-01-24T16:30","v":0.6},{"t":"2009-01-24T19:30","v":0.35},{"t":"2009-01-24T22:30","v":0.45},
{"t":"2009-01-25T01:30","v":0.35},{"t":"2009-01-25T04:30","v":0.45},{"t":"2009-01-25T07:30","v":0.45},{"t":"2009-01-25T10:30","v":0.6},{"t":"2009-01-25T13:30","v":0.35},{"t":"2009-01-25T16:30","v":0.5},{"t":"2009-01-25T19:30","v":0.35},{"t":"2009-01-25T22:30","v":0.65},
{"t":"2009-01-26T01:30","v":0.6},{"t":"2009-01-26T04:30","v":0.7},{"t":"2009-01-26T08:00","v":0.5},{"t":"2009-01-26T10:30","v":0.4},{"t":"2009-01-26T13:30","v":0.55},{"t":"2009-01-26T16:30","v":0.45},{"t":"2009-01-26T19:30","v":0.35},{"t":"2009-01-26T22:30","v":0.5},
{"t":"2009-01-27T01:30","v":0.35},{"t":"2009-01-27T04:30","v":0.55},{"t":"2009-01-27T07:30","v":0.45},{"t":"2009-01-27T10:30","v":0.5},{"t":"2009-01-27T13:30","v":0.75},{"t":"2009-01-27T16:00","v":0.6},{"t":"2009-01-27T19:30","v":0.8},{"t":"2009-01-27T22:30","v":0.6},
{"t":"2009-01-28T01:30","v":0.6},{"t":"2009-01-28T04:30","v":0.5},{"t":"2009-01-28T07:30","v":0.8},{"t":"2009-01-28T11:00","v":0.8},{"t":"2009-01-28T13:30","v":0.6},{"t":"2009-01-28T16:30","v":0.9},{"t":"2009-01-28T19:30","v":0.6},{"t":"2009-01-28T22:30","v":0.8},
{"t":"2009-01-29T01:30","v":0.5},{"t":"2009-01-29T04:30","v":0.6},{"t":"2009-01-29T08:00","v":0.5},{"t":"2009-01-29T11:00","v":0.7},{"t":"2009-01-29T14:00","v":0.6},{"t":"2009-01-29T17:00","v":0.5},{"t":"2009-01-29T19:30","v":0.3},{"t":"2009-01-29T22:30","v":0.45},
{"t":"2009-01-30T01:30","v":0.5},{"t":"2009-01-30T04:30","v":0.35},{"t":"2009-01-30T07:30","v":0.5},{"t":"2009-01-30T10:30","v":0.4},{"t":"2009-01-30T14:00","v":0.35},{"t":"2009-01-30T16:30","v":0.2},{"t":"2009-01-30T19:30","v":0.4},{"t":"2009-01-30T22:30","v":0.2},
{"t":"2009-01-31T02:00","v":0.3},{"t":"2009-01-31T05:00","v":0.1},{"t":"2009-01-31T08:00","v":0.5},{"t":"2009-01-31T11:30","v":0.5},{"t":"2009-01-31T14:30","v":0.75},{"t":"2009-01-31T17:30","v":0.7},{"t":"2009-01-31T21:00","v":0.6},{"t":"2009-01-31T23:30","v":0.8},
{"t":"2009-02-01T02:30","v":0.7},{"t":"2009-02-01T05:30","v":0.9},{"t":"2009-02-01T08:00","v":0.8},{"t":"2009-02-01T11:00","v":0.5},{"t":"2009-02-01T14:30","v":0.35},{"t":"2009-02-01T17:30","v":0.4},{"t":"2009-02-01T20:30","v":0.3},{"t":"2009-02-01T23:30","v":0.4},
{"t":"2009-02-02T02:30","v":0.45},{"t":"2009-02-02T05:30","v":0.35},{"t":"2009-02-02T08:30","v":0.5},{"t":"2009-02-02T11:30","v":0.4},{"t":"2009-02-02T14:30","v":0.45},{"t":"2009-02-02T17:30","v":0.55},{"t":"2009-02-02T20:30","v":0.45},{"t":"2009-02-02T23:00","v":0.7},
{"t":"2009-02-03T01:30","v":0.5},{"t":"2009-02-03T04:30","v":0.45},{"t":"2009-02-03T11:30","v":0.5},{"t":"2009-02-03T14:30","v":0.35},{"t":"2009-02-03T17:30","v":0.45},{"t":"2009-02-03T20:30","v":0.35},{"t":"2009-02-03T23:30","v":0.5},
{"t":"2009-02-04T02:30","v":0.45},{"t":"2009-02-04T05:30","v":0.55},{"t":"2009-02-04T09:00","v":0.7},{"t":"2009-02-04T11:30","v":0.6},{"t":"2009-02-04T14:30","v":0.9},{"t":"2009-02-04T17:30","v":1.0},{"t":"2009-02-04T20:30","v":0.8},{"t":"2009-02-04T23:30","v":0.7},
{"t":"2009-02-05T02:30","v":0.45},{"t":"2009-02-05T05:30","v":0.7},{"t":"2009-02-05T08:30","v":0.5},{"t":"2009-02-05T11:30","v":0.5},{"t":"2009-02-05T14:30","v":0.9},{"t":"2009-02-05T18:30","v":0.6},{"t":"2009-02-05T21:00","v":0.8},{"t":"2009-02-05T23:30","v":0.5},
{"t":"2009-02-06T03:00","v":0.5},{"t":"2009-02-06T06:30","v":0.9},{"t":"2009-02-06T12:30","v":1.0},{"t":"2009-02-06T15:30","v":0.6},{"t":"2009-02-06T18:30","v":0.7},{"t":"2009-02-06T21:30","v":0.5},
{"t":"2009-02-07T00:30","v":0.45},{"t":"2009-02-07T03:30","v":0.7},{"t":"2009-02-07T06:30","v":0.55},{"t":"2009-02-07T09:30","v":0.9},{"t":"2009-02-07T15:30","v":0.8},{"t":"2009-02-07T18:30","v":0.45},{"t":"2009-02-07T21:30","v":0.4},
{"t":"2009-02-08T00:30","v":0.5},{"t":"2009-02-08T03:30","v":0.35},{"t":"2009-02-08T06:30","v":0.6},{"t":"2009-02-08T09:30","v":0.4},{"t":"2009-02-08T12:30","v":0.5},{"t":"2009-02-08T16:00","v":0.9},{"t":"2009-02-08T21:30","v":0.2},
{"t":"2009-02-09T00:30","v":0.12},{"t":"2009-02-09T03:30","v":0.15},{"t":"2009-02-09T06:30","v":0.12},{"t":"2009-02-09T09:30","v":0.2},{"t":"2009-02-09T12:30","v":0.1},{"t":"2009-02-09T15:30","v":0.2},{"t":"2009-02-09T18:30","v":0.15},{"t":"2009-02-09T21:30","v":0.12},
{"t":"2009-02-10T01:00","v":0.2},{"t":"2009-02-10T04:00","v":0.7},{"t":"2009-02-10T06:00","v":1.5},{"t":"2009-02-10T08:30","v":2.6},{"t":"2009-02-10T11:00","v":1.8},{"t":"2009-02-10T13:00","v":1.8},{"t":"2009-02-10T15:00","v":1.6},{"t":"2009-02-10T17:00","v":1.5},{"t":"2009-02-10T19:00","v":1.4},{"t":"2009-02-10T21:30","v":1.8},
{"t":"2009-02-11T00:30","v":1.8},{"t":"2009-02-11T03:00","v":1.8},{"t":"2009-02-11T05:00","v":2.5},{"t":"2009-02-11T07:00","v":3.0},{"t":"2009-02-11T09:00","v":2.6},{"t":"2009-02-11T11:00","v":1.5},{"t":"2009-02-11T13:00","v":0.45},{"t":"2009-02-11T15:30","v":0.6},{"t":"2009-02-11T18:30","v":0.4},{"t":"2009-02-11T21:30","v":0.35},
{"t":"2009-02-12T00:30","v":0.5},{"t":"2009-02-12T03:30","v":0.45},{"t":"2009-02-12T06:00","v":0.6},{"t":"2009-02-12T09:00","v":0.6},{"t":"2009-02-12T12:30","v":0.45},{"t":"2009-02-12T15:00","v":0.7},{"t":"2009-02-12T17:00","v":0.55}
],
"ooa": [
{"t":"2009-01-09T15:00","v":0.2},{"t":"2009-01-09T18:00","v":0.45},{"t":"2009-01-09T21:00","v":0.5},
{"t":"2009-01-10T00:00","v":0.55},{"t":"2009-01-10T03:00","v":0.6},{"t":"2009-01-10T06:00","v":0.8},{"t":"2009-01-10T08:00","v":1.25},{"t":"2009-01-10T10:00","v":0.3},{"t":"2009-01-10T12:00","v":0.0},{"t":"2009-01-10T15:00","v":0.45},{"t":"2009-01-10T18:00","v":0.7},{"t":"2009-01-10T21:00","v":0.45},
{"t":"2009-01-11T00:00","v":0.5},{"t":"2009-01-11T03:00","v":0.4},{"t":"2009-01-11T06:00","v":0.5},{"t":"2009-01-11T09:00","v":0.45},{"t":"2009-01-11T12:00","v":0.4},{"t":"2009-01-11T15:00","v":0.55},{"t":"2009-01-11T18:00","v":0.6},{"t":"2009-01-11T21:00","v":0.8},
{"t":"2009-01-12T00:00","v":1.5},{"t":"2009-01-12T03:00","v":2.85},{"t":"2009-01-12T06:00","v":2.3},{"t":"2009-01-12T09:00","v":1.3},{"t":"2009-01-12T12:00","v":1.1},{"t":"2009-01-12T15:00","v":0.9},{"t":"2009-01-12T18:00","v":1.2},{"t":"2009-01-12T21:00","v":1.45},
{"t":"2009-01-13T00:00","v":1.5},{"t":"2009-01-13T03:00","v":1.2},{"t":"2009-01-13T06:00","v":1.0},{"t":"2009-01-13T08:00","v":1.3},{"t":"2009-01-13T12:00","v":0.9},{"t":"2009-01-13T15:00","v":0.55},{"t":"2009-01-13T18:00","v":0.6},{"t":"2009-01-13T21:00","v":0.5},
{"t":"2009-01-14T00:00","v":0.5},{"t":"2009-01-14T03:00","v":0.4},{"t":"2009-01-14T06:00","v":0.45},{"t":"2009-01-14T09:00","v":0.3},{"t":"2009-01-14T12:00","v":0.35},{"t":"2009-01-14T15:00","v":0.25},{"t":"2009-01-14T18:00","v":0.2},{"t":"2009-01-14T21:00","v":0.15},
{"t":"2009-01-15T00:00","v":0.1},{"t":"2009-01-15T03:00","v":0.3},{"t":"2009-01-15T06:00","v":0.7},{"t":"2009-01-15T09:00","v":0.9},{"t":"2009-01-15T12:00","v":0.5},{"t":"2009-01-15T15:00","v":0.4},{"t":"2009-01-15T18:00","v":0.2},{"t":"2009-01-15T21:00","v":0.45},
{"t":"2009-01-16T00:00","v":0.4},{"t":"2009-01-16T03:00","v":0.35},{"t":"2009-01-16T06:00","v":0.3},{"t":"2009-01-16T09:00","v":0.25},{"t":"2009-01-16T13:00","v":0.05},{"t":"2009-01-16T15:00","v":0.6},{"t":"2009-01-16T17:00","v":1.0},{"t":"2009-01-16T21:00","v":0.7},
{"t":"2009-01-17T00:00","v":0.75},{"t":"2009-01-17T03:00","v":0.8},{"t":"2009-01-17T06:00","v":1.0},{"t":"2009-01-17T09:00","v":1.2},{"t":"2009-01-17T12:00","v":1.7},{"t":"2009-01-17T13:00","v":1.0},{"t":"2009-01-17T15:00","v":0.9},{"t":"2009-01-17T18:00","v":0.6},{"t":"2009-01-17T21:00","v":0.5},
{"t":"2009-01-18T00:00","v":0.45},{"t":"2009-01-18T03:00","v":0.4},{"t":"2009-01-18T06:00","v":0.5},{"t":"2009-01-18T09:00","v":0.35},{"t":"2009-01-18T12:00","v":0.4},{"t":"2009-01-18T15:00","v":0.6},{"t":"2009-01-18T18:00","v":0.8},{"t":"2009-01-18T21:00","v":0.9},
{"t":"2009-01-19T00:00","v":1.0},{"t":"2009-01-19T03:00","v":0.9},{"t":"2009-01-19T06:00","v":1.0},{"t":"2009-01-19T09:00","v":1.1},{"t":"2009-01-19T12:00","v":1.0},{"t":"2009-01-19T15:00","v":1.2},{"t":"2009-01-19T18:00","v":1.3},{"t":"2009-01-19T21:00","v":1.4},
{"t":"2009-01-20T00:00","v":1.5},{"t":"2009-01-20T03:00","v":1.45},{"t":"2009-01-20T06:00","v":1.6},{"t":"2009-01-20T09:00","v":1.4},{"t":"2009-01-20T12:00","v":1.5},{"t":"2009-01-20T15:00","v":1.3},{"t":"2009-01-20T18:00","v":1.6},{"t":"2009-01-20T20:00","v":2.2},{"t":"2009-01-20T22:00","v":2.4},
{"t":"2009-01-21T00:00","v":2.2},{"t":"2009-01-21T03:00","v":2.0},{"t":"2009-01-21T06:00","v":2.1},{"t":"2009-01-21T09:00","v":1.8},{"t":"2009-01-21T12:00","v":1.5},{"t":"2009-01-21T15:00","v":1.3},{"t":"2009-01-21T18:00","v":1.0},{"t":"2009-01-21T21:00","v":1.2},
{"t":"2009-01-22T00:00","v":1.3},{"t":"2009-01-22T02:00","v":2.3},{"t":"2009-01-22T05:00","v":2.5},{"t":"2009-01-22T06:00","v":2.95},{"t":"2009-01-22T09:00","v":2.3},{"t":"2009-01-22T12:00","v":2.0},{"t":"2009-01-22T15:00","v":1.8},{"t":"2009-01-22T18:00","v":1.7},{"t":"2009-01-22T21:00","v":1.6},
{"t":"2009-01-23T00:00","v":1.5},{"t":"2009-01-23T03:00","v":1.4},{"t":"2009-01-23T06:00","v":1.3},{"t":"2009-01-23T09:00","v":1.0},{"t":"2009-01-23T12:00","v":0.5},{"t":"2009-01-23T15:00","v":0.9},{"t":"2009-01-23T18:00","v":1.0},{"t":"2009-01-23T21:00","v":1.5},
{"t":"2009-01-24T00:00","v":1.2},{"t":"2009-01-24T01:00","v":0.7},{"t":"2009-01-24T06:00","v":1.6},{"t":"2009-01-24T09:00","v":1.55},{"t":"2009-01-24T12:00","v":1.5},{"t":"2009-01-24T15:00","v":1.4},{"t":"2009-01-24T18:00","v":1.3},{"t":"2009-01-24T21:00","v":1.0},{"t":"2009-01-24T23:00","v":0.8},
{"t":"2009-01-25T02:00","v":0.2},{"t":"2009-01-25T06:00","v":0.7},{"t":"2009-01-25T09:00","v":0.9},{"t":"2009-01-25T12:00","v":0.85},{"t":"2009-01-25T15:00","v":1.0},{"t":"2009-01-25T18:00","v":1.0},{"t":"2009-01-25T21:00","v":1.1},{"t":"2009-01-25T23:00","v":1.6},
{"t":"2009-01-26T05:00","v":1.0},{"t":"2009-01-26T09:00","v":0.8},{"t":"2009-01-26T12:00","v":0.65},{"t":"2009-01-26T15:00","v":0.6},{"t":"2009-01-26T18:00","v":0.7},{"t":"2009-01-26T21:00","v":0.8},
{"t":"2009-01-27T00:00","v":0.75},{"t":"2009-01-27T03:00","v":0.8},{"t":"2009-01-27T06:00","v":1.0},{"t":"2009-01-27T09:00","v":0.85},{"t":"2009-01-27T12:00","v":0.9},{"t":"2009-01-27T15:00","v":0.8},{"t":"2009-01-27T18:00","v":1.0},{"t":"2009-01-27T19:00","v":2.0},{"t":"2009-01-27T20:00","v":1.2},
{"t":"2009-01-28T00:00","v":1.4},{"t":"2009-01-28T03:00","v":1.5},{"t":"2009-01-28T06:00","v":1.3},{"t":"2009-01-28T09:00","v":1.5},{"t":"2009-01-28T12:00","v":1.4},{"t":"2009-01-28T15:00","v":1.6},{"t":"2009-01-28T18:00","v":1.8},{"t":"2009-01-28T21:00","v":1.7},
{"t":"2009-01-29T00:00","v":1.5},{"t":"2009-01-29T03:00","v":1.45},{"t":"2009-01-29T06:00","v":1.3},{"t":"2009-01-29T09:00","v":1.2},{"t":"2009-01-29T12:00","v":1.0},{"t":"2009-01-29T15:00","v":0.5},{"t":"2009-01-29T18:00","v":0.9},{"t":"2009-01-29T20:00","v":1.5},
{"t":"2009-01-30T00:00","v":0.9},{"t":"2009-01-30T03:00","v":0.8},{"t":"2009-01-30T05:00","v":0.6},{"t":"2009-01-30T09:00","v":0.75},{"t":"2009-01-30T12:00","v":0.6},{"t":"2009-01-30T14:00","v":0.9},{"t":"2009-01-30T17:00","v":0.5},{"t":"2009-01-30T19:00","v":1.5},{"t":"2009-01-30T23:00","v":1.2},
{"t":"2009-01-31T04:00","v":1.3},{"t":"2009-01-31T05:00","v":2.95},{"t":"2009-01-31T06:00","v":0.5},{"t":"2009-01-31T10:00","v":0.6},{"t":"2009-01-31T13:00","v":0.8},{"t":"2009-01-31T16:00","v":1.0},{"t":"2009-01-31T19:00","v":1.6},{"t":"2009-01-31T22:00","v":2.6},
{"t":"2009-02-01T01:00","v":1.8},{"t":"2009-02-01T04:00","v":2.0},{"t":"2009-02-01T07:00","v":1.9},{"t":"2009-02-01T10:00","v":1.7},{"t":"2009-02-01T13:00","v":1.6},{"t":"2009-02-01T16:00","v":1.5},{"t":"2009-02-01T19:00","v":1.4},{"t":"2009-02-01T22:00","v":1.3},
{"t":"2009-02-02T01:00","v":1.25},{"t":"2009-02-02T04:00","v":1.1},{"t":"2009-02-02T07:00","v":0.95},{"t":"2009-02-02T10:00","v":0.8},{"t":"2009-02-02T13:00","v":0.6},{"t":"2009-02-02T16:00","v":0.75},{"t":"2009-02-02T19:00","v":0.9},{"t":"2009-02-02T22:00","v":1.2},
{"t":"2009-02-03T00:00","v":1.4},{"t":"2009-02-03T03:00","v":1.0},{"t":"2009-02-03T06:00","v":0.8},{"t":"2009-02-03T08:00","v":0.6},{"t":"2009-02-03T09:00","v":0.0},{"t":"2009-02-03T10:00","v":1.4},{"t":"2009-02-03T13:00","v":1.3},{"t":"2009-02-03T16:00","v":1.5},{"t":"2009-02-03T19:00","v":1.6},{"t":"2009-02-03T22:00","v":1.5},
{"t":"2009-02-04T01:00","v":1.7},{"t":"2009-02-04T04:00","v":3.0},{"t":"2009-02-04T05:00","v":1.5},{"t":"2009-02-04T07:00","v":1.4},{"t":"2009-02-04T10:00","v":1.5},{"t":"2009-02-04T13:00","v":1.7},{"t":"2009-02-04T16:00","v":1.5},{"t":"2009-02-04T19:00","v":1.2},{"t":"2009-02-04T22:00","v":2.0},
{"t":"2009-02-05T00:00","v":2.3},{"t":"2009-02-05T02:00","v":2.1},{"t":"2009-02-05T04:00","v":2.2},{"t":"2009-02-05T07:00","v":2.2},{"t":"2009-02-05T10:00","v":1.8},{"t":"2009-02-05T13:00","v":0.5},{"t":"2009-02-05T16:00","v":1.0},{"t":"2009-02-05T18:00","v":1.5},{"t":"2009-02-05T21:00","v":3.0},
{"t":"2009-02-06T01:00","v":2.5},{"t":"2009-02-06T03:00","v":2.8},{"t":"2009-02-06T05:00","v":2.6},{"t":"2009-02-06T08:00","v":2.2},{"t":"2009-02-06T10:00","v":1.6},{"t":"2009-02-06T14:00","v":3.0},{"t":"2009-02-06T17:00","v":2.8},{"t":"2009-02-06T20:00","v":3.0},{"t":"2009-02-06T22:00","v":3.2},
{"t":"2009-02-07T02:00","v":3.0},{"t":"2009-02-07T04:30","v":5.0},{"t":"2009-02-07T05:00","v":3.2},{"t":"2009-02-07T08:00","v":3.5},{"t":"2009-02-07T11:00","v":3.6},{"t":"2009-02-07T12:00","v":4.0},{"t":"2009-02-07T14:00","v":3.6},{"t":"2009-02-07T17:00","v":3.5},{"t":"2009-02-07T20:00","v":2.8},{"t":"2009-02-07T23:00","v":2.5},
{"t":"2009-02-08T02:00","v":1.0},{"t":"2009-02-08T05:00","v":1.5},{"t":"2009-02-08T06:00","v":2.5},{"t":"2009-02-08T10:00","v":2.3},{"t":"2009-02-08T14:00","v":4.2},{"t":"2009-02-08T15:00","v":5.0},{"t":"2009-02-08T17:00","v":3.3},{"t":"2009-02-08T19:00","v":3.2},{"t":"2009-02-08T21:00","v":2.6},
{"t":"2009-02-09T01:00","v":0.5},{"t":"2009-02-09T03:00","v":0.6},{"t":"2009-02-09T05:00","v":0.4},{"t":"2009-02-09T08:00","v":0.3},{"t":"2009-02-09T11:00","v":0.35},{"t":"2009-02-09T14:00","v":0.25},{"t":"2009-02-09T17:00","v":0.3},{"t":"2009-02-09T20:00","v":0.25},{"t":"2009-02-09T23:00","v":0.3},
{"t":"2009-02-10T02:00","v":0.2},{"t":"2009-02-10T05:00","v":0.0},{"t":"2009-02-10T08:00","v":0.2},{"t":"2009-02-10T11:00","v":0.1},{"t":"2009-02-10T13:00","v":0.0},{"t":"2009-02-10T16:00","v":1.0},{"t":"2009-02-10T20:00","v":1.8},{"t":"2009-02-10T23:00","v":2.1},
{"t":"2009-02-11T02:00","v":1.5},{"t":"2009-02-11T05:00","v":1.2},{"t":"2009-02-11T07:00","v":1.0},{"t":"2009-02-11T10:00","v":0.6},{"t":"2009-02-11T14:00","v":1.2},{"t":"2009-02-11T17:00","v":1.4},{"t":"2009-02-11T20:00","v":1.8},{"t":"2009-02-11T23:00","v":2.0},
{"t":"2009-02-12T02:00","v":2.2},{"t":"2009-02-12T04:00","v":2.7},{"t":"2009-02-12T06:00","v":1.8},{"t":"2009-02-12T09:00","v":1.0},{"t":"2009-02-12T12:00","v":1.0},{"t":"2009-02-12T15:00","v":1.3},{"t":"2009-02-12T17:00","v":1.1},
{"t":"2009-01-09T16:30","v":0.35},{"t":"2009-01-09T19:30","v":0.3},{"t":"2009-01-09T22:30","v":0.55},
{"t":"2009-01-10T01:30","v":0.45},{"t":"2009-01-10T04:30","v":0.7},{"t":"2009-01-10T07:00","v":0.6},{"t":"2009-01-10T09:00","v":0.7},{"t":"2009-01-10T11:00","v":0.4},{"t":"2009-01-10T13:30","v":0.25},{"t":"2009-01-10T16:30","v":0.5},{"t":"2009-01-10T19:30","v":0.55},{"t":"2009-01-10T22:30","v":0.55},
{"t":"2009-01-11T01:30","v":0.4},{"t":"2009-01-11T04:30","v":0.55},{"t":"2009-01-11T07:30","v":0.4},{"t":"2009-01-11T10:30","v":0.5},{"t":"2009-01-11T13:30","v":0.5},{"t":"2009-01-11T16:30","v":0.45},{"t":"2009-01-11T19:30","v":0.7},{"t":"2009-01-11T22:30","v":1.0},
{"t":"2009-01-12T01:30","v":2.0},{"t":"2009-01-12T04:30","v":2.5},{"t":"2009-01-12T07:30","v":1.8},{"t":"2009-01-12T10:30","v":1.2},{"t":"2009-01-12T13:30","v":1.0},{"t":"2009-01-12T16:30","v":1.1},{"t":"2009-01-12T19:30","v":1.3},{"t":"2009-01-12T22:30","v":1.35},
{"t":"2009-01-13T01:30","v":1.3},{"t":"2009-01-13T04:30","v":1.1},{"t":"2009-01-13T07:00","v":1.15},{"t":"2009-01-13T10:00","v":1.1},{"t":"2009-01-13T13:30","v":0.7},{"t":"2009-01-13T16:30","v":0.65},{"t":"2009-01-13T19:30","v":0.5},{"t":"2009-01-13T22:30","v":0.45},
{"t":"2009-01-14T01:30","v":0.45},{"t":"2009-01-14T04:30","v":0.5},{"t":"2009-01-14T07:30","v":0.35},{"t":"2009-01-14T10:30","v":0.4},{"t":"2009-01-14T13:30","v":0.3},{"t":"2009-01-14T16:30","v":0.3},{"t":"2009-01-14T19:30","v":0.25},{"t":"2009-01-14T22:30","v":0.2},
{"t":"2009-01-15T01:30","v":0.25},{"t":"2009-01-15T04:30","v":0.5},{"t":"2009-01-15T07:30","v":0.8},{"t":"2009-01-15T10:30","v":0.65},{"t":"2009-01-15T13:30","v":0.45},{"t":"2009-01-15T16:30","v":0.3},{"t":"2009-01-15T19:30","v":0.35},{"t":"2009-01-15T22:30","v":0.3},
{"t":"2009-01-16T01:30","v":0.45},{"t":"2009-01-16T04:30","v":0.3},{"t":"2009-01-16T07:30","v":0.35},{"t":"2009-01-16T11:00","v":0.15},{"t":"2009-01-16T14:00","v":0.3},{"t":"2009-01-16T16:00","v":0.8},{"t":"2009-01-16T19:00","v":0.8},{"t":"2009-01-16T22:30","v":0.85},
{"t":"2009-01-17T01:30","v":0.7},{"t":"2009-01-17T04:30","v":0.95},{"t":"2009-01-17T07:30","v":1.1},{"t":"2009-01-17T10:30","v":1.35},{"t":"2009-01-17T12:30","v":1.3},{"t":"2009-01-17T14:00","v":1.1},{"t":"2009-01-17T16:30","v":0.7},{"t":"2009-01-17T19:30","v":0.55},{"t":"2009-01-17T22:30","v":0.45},
{"t":"2009-01-18T01:30","v":0.5},{"t":"2009-01-18T04:30","v":0.35},{"t":"2009-01-18T07:30","v":0.4},{"t":"2009-01-18T10:30","v":0.45},{"t":"2009-01-18T13:30","v":0.5},{"t":"2009-01-18T16:30","v":0.7},{"t":"2009-01-18T19:30","v":0.75},{"t":"2009-01-18T22:30","v":1.0},
{"t":"2009-01-19T01:30","v":0.9},{"t":"2009-01-19T04:30","v":1.05},{"t":"2009-01-19T07:30","v":0.95},{"t":"2009-01-19T10:30","v":1.0},{"t":"2009-01-19T13:30","v":1.15},{"t":"2009-01-19T16:30","v":1.1},{"t":"2009-01-19T19:30","v":1.35},{"t":"2009-01-19T22:30","v":1.5},
{"t":"2009-01-20T01:30","v":1.4},{"t":"2009-01-20T04:30","v":1.55},{"t":"2009-01-20T07:30","v":1.45},{"t":"2009-01-20T10:30","v":1.6},{"t":"2009-01-20T13:30","v":1.35},{"t":"2009-01-20T16:30","v":1.45},{"t":"2009-01-20T19:00","v":1.9},{"t":"2009-01-20T21:00","v":2.5},{"t":"2009-01-20T23:00","v":2.3},
{"t":"2009-01-21T01:30","v":2.1},{"t":"2009-01-21T04:30","v":2.15},{"t":"2009-01-21T07:30","v":1.95},{"t":"2009-01-21T10:30","v":1.65},{"t":"2009-01-21T13:30","v":1.45},{"t":"2009-01-21T16:30","v":1.2},{"t":"2009-01-21T19:30","v":1.1},{"t":"2009-01-21T22:30","v":1.15},
{"t":"2009-01-22T01:00","v":1.6},{"t":"2009-01-22T03:30","v":2.2},{"t":"2009-01-22T07:30","v":2.5},{"t":"2009-01-22T10:30","v":2.1},{"t":"2009-01-22T13:30","v":1.9},{"t":"2009-01-22T16:30","v":1.75},{"t":"2009-01-22T19:30","v":1.6},{"t":"2009-01-22T22:30","v":1.55},
{"t":"2009-01-23T01:30","v":1.35},{"t":"2009-01-23T04:30","v":1.45},{"t":"2009-01-23T07:30","v":1.15},{"t":"2009-01-23T10:30","v":0.8},{"t":"2009-01-23T13:30","v":0.7},{"t":"2009-01-23T16:30","v":1.0},{"t":"2009-01-23T19:30","v":1.2},{"t":"2009-01-23T22:30","v":1.3},
{"t":"2009-01-24T03:00","v":1.3},{"t":"2009-01-24T07:30","v":1.5},{"t":"2009-01-24T10:30","v":1.6},{"t":"2009-01-24T13:30","v":1.4},{"t":"2009-01-24T16:30","v":1.45},{"t":"2009-01-24T19:30","v":1.2},{"t":"2009-01-24T22:00","v":0.9},
{"t":"2009-01-25T00:30","v":0.5},{"t":"2009-01-25T04:00","v":0.5},{"t":"2009-01-25T07:30","v":0.85},{"t":"2009-01-25T10:30","v":0.8},{"t":"2009-01-25T13:30","v":0.95},{"t":"2009-01-25T16:30","v":0.9},{"t":"2009-01-25T19:30","v":1.05},{"t":"2009-01-25T22:00","v":1.2},
{"t":"2009-01-26T01:00","v":1.2},{"t":"2009-01-26T03:00","v":0.9},{"t":"2009-01-26T07:00","v":0.9},{"t":"2009-01-26T10:30","v":0.7},{"t":"2009-01-26T13:30","v":0.55},{"t":"2009-01-26T16:30","v":0.65},{"t":"2009-01-26T19:30","v":0.75},{"t":"2009-01-26T22:30","v":0.7},
{"t":"2009-01-27T01:30","v":0.85},{"t":"2009-01-27T04:30","v":0.9},{"t":"2009-01-27T07:30","v":0.95},{"t":"2009-01-27T10:30","v":0.85},{"t":"2009-01-27T13:30","v":0.95},{"t":"2009-01-27T16:30","v":0.9},{"t":"2009-01-27T22:00","v":1.3},
{"t":"2009-01-28T01:30","v":1.5},{"t":"2009-01-28T04:30","v":1.4},{"t":"2009-01-28T07:30","v":1.45},{"t":"2009-01-28T10:30","v":1.35},{"t":"2009-01-28T13:30","v":1.5},{"t":"2009-01-28T16:30","v":1.7},{"t":"2009-01-28T19:30","v":1.65},{"t":"2009-01-28T22:30","v":1.55},
{"t":"2009-01-29T01:30","v":1.4},{"t":"2009-01-29T04:30","v":1.35},{"t":"2009-01-29T07:30","v":1.25},{"t":"2009-01-29T10:30","v":1.1},{"t":"2009-01-29T13:30","v":0.8},{"t":"2009-01-29T16:30","v":0.7},{"t":"2009-01-29T19:00","v":1.2},{"t":"2009-01-29T22:00","v":1.1},
{"t":"2009-01-30T01:30","v":0.85},{"t":"2009-01-30T04:00","v":0.7},{"t":"2009-01-30T07:00","v":0.7},{"t":"2009-01-30T10:30","v":0.7},{"t":"2009-01-30T13:00","v":0.75},{"t":"2009-01-30T15:30","v":0.7},{"t":"2009-01-30T18:00","v":1.0},{"t":"2009-01-30T21:00","v":1.3},
{"t":"2009-01-31T01:30","v":1.2},{"t":"2009-01-31T08:00","v":0.55},{"t":"2009-01-31T11:30","v":0.7},{"t":"2009-01-31T14:30","v":0.9},{"t":"2009-01-31T17:30","v":1.3},{"t":"2009-01-31T20:30","v":2.0},{"t":"2009-01-31T23:30","v":2.2},
{"t":"2009-02-01T02:30","v":1.9},{"t":"2009-02-01T05:30","v":1.95},{"t":"2009-02-01T08:30","v":1.8},{"t":"2009-02-01T11:30","v":1.65},{"t":"2009-02-01T14:30","v":1.55},{"t":"2009-02-01T17:30","v":1.45},{"t":"2009-02-01T20:30","v":1.35},{"t":"2009-02-01T23:30","v":1.3},
{"t":"2009-02-02T02:30","v":1.15},{"t":"2009-02-02T05:30","v":1.0},{"t":"2009-02-02T08:30","v":0.85},{"t":"2009-02-02T11:30","v":0.7},{"t":"2009-02-02T14:30","v":0.7},{"t":"2009-02-02T17:30","v":0.8},{"t":"2009-02-02T20:30","v":1.05},{"t":"2009-02-02T23:00","v":1.3},
{"t":"2009-02-03T01:30","v":1.2},{"t":"2009-02-03T04:30","v":0.9},{"t":"2009-02-03T07:00","v":0.7},{"t":"2009-02-03T11:30","v":1.35},{"t":"2009-02-03T14:30","v":1.45},{"t":"2009-02-03T17:30","v":1.55},{"t":"2009-02-03T20:30","v":1.6},{"t":"2009-02-03T23:30","v":1.6},
{"t":"2009-02-04T02:30","v":1.6},{"t":"2009-02-04T06:00","v":1.45},{"t":"2009-02-04T08:30","v":1.5},{"t":"2009-02-04T11:30","v":1.6},{"t":"2009-02-04T14:30","v":1.6},{"t":"2009-02-04T17:30","v":1.3},{"t":"2009-02-04T20:30","v":1.6},{"t":"2009-02-04T23:00","v":2.2},
{"t":"2009-02-05T01:00","v":2.2},{"t":"2009-02-05T03:00","v":2.1},{"t":"2009-02-05T05:30","v":2.0},{"t":"2009-02-05T08:30","v":2.0},{"t":"2009-02-05T11:30","v":1.2},{"t":"2009-02-05T14:30","v":0.8},{"t":"2009-02-05T17:00","v":1.3},{"t":"2009-02-05T19:30","v":2.2},{"t":"2009-02-05T23:00","v":2.7},
{"t":"2009-02-06T02:00","v":2.7},{"t":"2009-02-06T04:00","v":2.7},{"t":"2009-02-06T06:30","v":2.4},{"t":"2009-02-06T09:00","v":1.9},{"t":"2009-02-06T12:00","v":2.4},{"t":"2009-02-06T15:30","v":2.9},{"t":"2009-02-06T18:30","v":2.9},{"t":"2009-02-06T21:00","v":3.1},{"t":"2009-02-06T23:30","v":3.1},
{"t":"2009-02-07T03:00","v":3.5},{"t":"2009-02-07T06:30","v":3.4},{"t":"2009-02-07T09:30","v":3.55},{"t":"2009-02-07T13:00","v":3.8},{"t":"2009-02-07T15:30","v":3.5},{"t":"2009-02-07T18:30","v":3.2},{"t":"2009-02-07T21:30","v":2.6},
{"t":"2009-02-08T00:30","v":1.8},{"t":"2009-02-08T03:30","v":1.2},{"t":"2009-02-08T08:00","v":2.4},{"t":"2009-02-08T12:00","v":3.2},{"t":"2009-02-08T14:30","v":4.5},{"t":"2009-02-08T16:00","v":3.8},{"t":"2009-02-08T18:00","v":3.3},{"t":"2009-02-08T20:00","v":2.9},{"t":"2009-02-08T23:00","v":1.5},
{"t":"2009-02-09T02:00","v":0.55},{"t":"2009-02-09T04:00","v":0.45},{"t":"2009-02-09T06:30","v":0.35},{"t":"2009-02-09T09:30","v":0.3},{"t":"2009-02-09T12:30","v":0.3},{"t":"2009-02-09T15:30","v":0.28},{"t":"2009-02-09T18:30","v":0.25},{"t":"2009-02-09T21:30","v":0.28},
{"t":"2009-02-10T00:30","v":0.25},{"t":"2009-02-10T03:30","v":0.1},{"t":"2009-02-10T06:30","v":0.1},{"t":"2009-02-10T09:30","v":0.15},{"t":"2009-02-10T12:00","v":0.05},{"t":"2009-02-10T14:30","v":0.5},{"t":"2009-02-10T18:00","v":1.4},{"t":"2009-02-10T21:30","v":2.0},
{"t":"2009-02-11T00:30","v":1.8},{"t":"2009-02-11T03:30","v":1.35},{"t":"2009-02-11T06:00","v":1.1},{"t":"2009-02-11T08:30","v":0.8},{"t":"2009-02-11T12:00","v":0.9},{"t":"2009-02-11T15:30","v":1.3},{"t":"2009-02-11T18:30","v":1.6},{"t":"2009-02-11T21:30","v":1.9},
{"t":"2009-02-12T03:00","v":2.4},{"t":"2009-02-12T05:00","v":2.2},{"t":"2009-02-12T07:30","v":1.4},{"t":"2009-02-12T10:30","v":1.0},{"t":"2009-02-12T13:30","v":1.15},{"t":"2009-02-12T16:00","v":1.2}
]
},
"vconcat": [
{
  "width": 713, "height": 135,
  "layer": [
    {
      "data": {"name": "bboa"},
      "mark": {"type": "line", "color": "#9b6a00", "strokeWidth": 1.5, "clip": true},
      "encoding": {
        "x": {"field": "t", "type": "temporal",
              "scale": {"domain": [{"year": 2009, "month": 1, "date": 9}, {"year": 2009, "month": 2, "date": 12, "hours": 17, "minutes": 30}]},
              "axis": {"title": null, "labels": false, "ticks": false, "grid": true, "tickCount": {"interval": "day", "step": 1}, "domain": true, "domainColor": "#000", "domainWidth": 1.5}},
        "y": {"field": "v", "type": "quantitative",
              "scale": {"domain": [0, 2], "nice": false},
              "axis": {"title": null, "values": [0, 0.5, 1, 1.5, 2], "tickCount": 20, "format": ".1f", "labelOverlap": false, "grid": true, "domain": true, "ticks": true, "tickSize": 11, "tickWidth": 1.5, "tickColor": "#333", "domainColor": "#333", "domainWidth": 1.5, "labelFontSize": 15, "labelPadding": 5}}
      }
    },
    {
      "data": {"values": [{}]},
      "mark": {"type": "rect", "fillOpacity": 0, "stroke": "#ff0000", "strokeWidth": 3},
      "encoding": {
        "x": {"datum": {"year": 2009, "month": 1, "date": 24, "hours": 2}, "type": "temporal"},
        "x2": {"datum": {"year": 2009, "month": 1, "date": 28, "hours": 12}},
        "y": {"datum": 1.957, "type": "quantitative"},
        "y2": {"datum": 1.4}
      }
    },
    {
      "data": {"values": [{}]},
      "mark": {"type": "text", "text": "BBOA", "fontWeight": "bold", "fontSize": 15, "color": "#9b6a0a", "baseline": "middle", "align": "center"},
      "encoding": {
        "x": {"datum": {"year": 2009, "month": 1, "date": 26, "hours": 6}, "type": "temporal"},
        "y": {"datum": 1.66, "type": "quantitative"}
      }
    }
  ]
},
{
  "width": 713, "height": 135,
  "layer": [
    {
      "data": {"name": "hoa"},
      "mark": {"type": "line", "color": "#777777", "strokeWidth": 1.5, "clip": true},
      "encoding": {
        "x": {"field": "t", "type": "temporal",
              "scale": {"domain": [{"year": 2009, "month": 1, "date": 9}, {"year": 2009, "month": 2, "date": 12, "hours": 17, "minutes": 30}]},
              "axis": {"title": null, "labels": false, "ticks": false, "grid": true, "tickCount": {"interval": "day", "step": 1}, "domain": true, "domainColor": "#000", "domainWidth": 1.5}},
        "y": {"field": "v", "type": "quantitative",
              "scale": {"domain": [0, 5], "nice": false},
              "axis": {"title": null, "values": [0, 1, 2, 3, 4, 5], "tickCount": 20, "format": "d", "labelOverlap": false, "grid": true, "domain": true, "ticks": true, "tickSize": 11, "tickWidth": 1.5, "tickColor": "#333", "domainColor": "#333", "domainWidth": 1.5, "labelFontSize": 15, "labelPadding": 5}}
      }
    },
    {
      "data": {"values": [{}]},
      "mark": {"type": "text", "text": "HOA", "fontWeight": "bold", "fontSize": 15, "color": "#808080", "baseline": "middle", "align": "center"},
      "encoding": {
        "x": {"datum": {"year": 2009, "month": 1, "date": 26, "hours": 7}, "type": "temporal"},
        "y": {"datum": 4.29, "type": "quantitative"}
      }
    }
  ]
},
{
  "width": 713, "height": 135,
  "layer": [
    {
      "data": {"name": "ooa"},
      "mark": {"type": "line", "color": "#ff40dc", "strokeWidth": 1.5, "clip": true},
      "encoding": {
        "x": {"field": "t", "type": "temporal",
              "scale": {"domain": [{"year": 2009, "month": 1, "date": 9}, {"year": 2009, "month": 2, "date": 12, "hours": 17, "minutes": 30}]},
              "axis": {"title": null, "format": "%-d.%-m.%Y", "grid": true, "tickCount": {"interval": "day", "step": 1},
                       "labelExpr": "round((datum.value - datetime(2009,0,11)) / 86400000) % 5 == 0 ? timeFormat(datum.value, '%-d.%-m.%Y') : ''",
                       "labelOverlap": false, "labelFlush": false,
                       "tickSize": {"condition": {"test": "round((datum.value - datetime(2009,0,11)) / 86400000) % 5 == 0", "value": 10}, "value": 6},
                       "tickColor": "#000", "tickWidth": 1.5, "domainColor": "#000", "domainWidth": 1.5, "labelFontSize": 14, "labelPadding": 9}},
        "y": {"field": "v", "type": "quantitative",
              "scale": {"domain": [0, 5], "nice": false},
              "axis": {"title": "Mass Concentration (μg m⁻³)", "titleFontSize": 15, "titleFontWeight": "normal", "titleX": -35, "values": [0, 1, 2, 3, 4, 5], "tickCount": 20, "format": "d", "labelOverlap": false, "grid": true, "domain": true, "ticks": true, "tickSize": 11, "tickWidth": 1.5, "tickColor": "#333", "domainColor": "#333", "domainWidth": 1.5, "labelFontSize": 15, "labelPadding": 5}}
      }
    },
    {
      "data": {"values": [{}]},
      "mark": {"type": "text", "text": "OOA", "fontWeight": "bold", "fontSize": 15, "color": "#ff40dc", "baseline": "middle", "align": "center"},
      "encoding": {
        "x": {"datum": {"year": 2009, "month": 1, "date": 26, "hours": 7}, "type": "temporal"},
        "y": {"datum": 4.28, "type": "quantitative"}
      }
    }
  ]
}
]
}
